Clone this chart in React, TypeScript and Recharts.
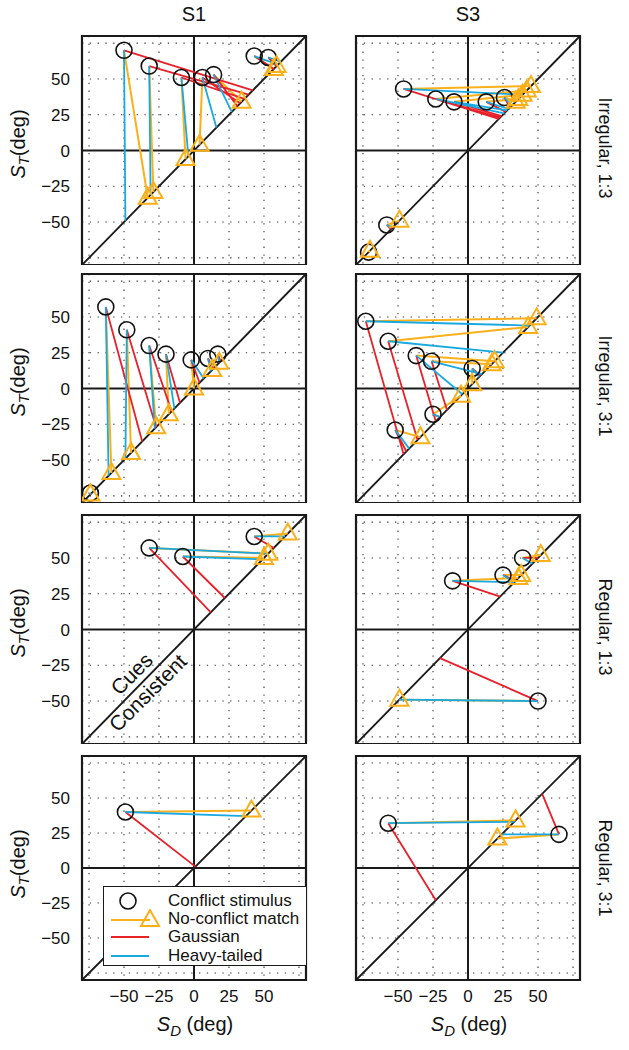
import React from 'react';
import {
  ComposedChart, Line, Scatter, XAxis, YAxis, CartesianGrid, ReferenceLine, ReferenceArea,
} from 'recharts';

// conflict stimuli [S_D, S_T] and the diagonal values each one is linked to
const s1Irr13Stim: [number, number][] = [[-50, 70], [-32, 59], [-9, 51], [6, 51], [14, 53], [43, 66], [53, 65]];
const s1Irr13Match = [-33, -29, -6, 4, 34, 57, 59];
const s1Irr13Gauss = [42, 39, 36, 33, 31, 57, 59];
const s1Irr13Heavy = [-49, -31, -4, 16, 27, 60, 62];

const s3Irr13Stim: [number, number][] = [[-46, 43], [-23, 36], [-10, 34], [13, 34], [26, 37], [-58, -52], [-71, -71]];
const s3Irr13Match = [45, 42, 39, 36, 34, -49, -70];
const s3Irr13Gauss = [22, 23, 24, 27, 30, -55, -71];
const s3Irr13Heavy = [39, 26, 28, 29, 31, -54, -71];

const s1Irr31Stim: [number, number][] = [[-63, 57], [-48, 41], [-32, 30], [-20, 24], [-2, 20], [10, 21], [17, 24], [-74, -73]];
const s1Irr31Match = [-59, -45, -27, -18, 0, 13, 18, -74];
const s1Irr31Gauss = [-37, -27, -16, -10, 4, 14, 19, -74];
const s1Irr31Heavy = [-61, -49, -28, -14, 7, 12, 18, -74];

const s3Irr31Stim: [number, number][] = [[-73, 47], [-57, 33], [-37, 23], [-26, 19], [3, 14], [-25, -18], [-52, -29]];
const s3Irr31Match = [49, 43, 19, 17, 3, -5, -34];
const s3Irr31Gauss = [-46, -36, -23, -15, 9, -20, -44];
const s3Irr31Heavy = [44, 25, -4, 10, 8, -20, -42];

const s1Reg13Stim: [number, number][] = [[-32, 57], [-8, 51], [43, 65]];
const s1Reg13Match = [53, 50, 67];
const s1Reg13Gauss = [12, 22, 57];
const s1Reg13Heavy = [53, 49, 65];

const s3Reg13Stim: [number, number][] = [[-11, 34], [25, 38], [39, 50], [50, -50]];
const s3Reg13Match = [36, 38, 52, -49];
const s3Reg13Gauss = [23, 34, 50, -20];
const s3Reg13Heavy = [33, 33, 46, -49];

const s1Reg31Stim: [number, number][] = [[-49, 40]];
const s1Reg31Match = [41];
const s1Reg31Gauss = [1];
const s1Reg31Heavy = [37];

const s3Reg31Stim: [number, number][] = [[-57, 32], [65, 24]];
const s3Reg31Match = [34, 21];
const s3Reg31Gauss = [-23, 53];
const s3Reg31Heavy = [33, 24];

const SUBJECTS = ['S1', 'S3'];
const CONDITIONS = ['Irregular, 1:3', 'Irregular, 3:1', 'Regular, 1:3', 'Regular, 3:1'];
const TICKS = [-75, -50, -25, 0, 25, 50, 75];
const DOMAIN: [number, number] = [-80, 80];

const ORANGE = '#FBB01A';
const RED = '#E8202A';
const BLUE = '#19A9E1';
const FONT = '"Liberation Sans", Arial, Helvetica, sans-serif';

const PLOT = 224;
const COL_X = [82, 356];
const ROW_Y = [36, 274, 515, 756];

type Pt = { x: number; y: number | null };

function segs(stim: [number, number][], targets: number[]): Pt[] {
  const out: Pt[] = [];
  stim.forEach(([sd, st], i) => {
    out.push({ x: sd, y: st }, { x: targets[i], y: targets[i] }, { x: targets[i], y: null });
  });
  return out;
}

const PANELS = [
  { row: 0, col: 0, stim: s1Irr13Stim, match: s1Irr13Match, gauss: s1Irr13Gauss, heavy: s1Irr13Heavy },
  { row: 0, col: 1, stim: s3Irr13Stim, match: s3Irr13Match, gauss: s3Irr13Gauss, heavy: s3Irr13Heavy },
  { row: 1, col: 0, stim: s1Irr31Stim, match: s1Irr31Match, gauss: s1Irr31Gauss, heavy: s1Irr31Heavy },
  { row: 1, col: 1, stim: s3Irr31Stim, match: s3Irr31Match, gauss: s3Irr31Gauss, heavy: s3Irr31Heavy },
  { row: 2, col: 0, stim: s1Reg13Stim, match: s1Reg13Match, gauss: s1Reg13Gauss, heavy: s1Reg13Heavy },
  { row: 2, col: 1, stim: s3Reg13Stim, match: s3Reg13Match, gauss: s3Reg13Gauss, heavy: s3Reg13Heavy },
  { row: 3, col: 0, stim: s1Reg31Stim, match: s1Reg31Match, gauss: s1Reg31Gauss, heavy: s1Reg31Heavy },
  { row: 3, col: 1, stim: s3Reg31Stim, match: s3Reg31Match, gauss: s3Reg31Gauss, heavy: s3Reg31Heavy },
];

const fmtTick = (v: number) => (Math.abs(v) === 75 ? '' : v < 0 ? `\u2212${-v}` : `${v}`);

const CircleMark = (props: any) => (
  <circle cx={props.cx} cy={props.cy} r={8} fill="none" stroke="#111" strokeWidth={1.6} />
);

const TriMark = (props: any) => {
  const { cx, cy } = props;
  return (
    <polygon
      points={`${cx},${cy - 10} ${cx - 9},${cy + 6} ${cx + 9},${cy + 6}`}
      fill="none" stroke={ORANGE} strokeWidth={2} strokeLinejoin="miter"
    />
  );
};

function Panel({ p }: { p: typeof PANELS[number] }) {
  const left = p.col === 0;
  const bottom = p.row === 3;
  const pad = 5;
  const yW = left ? 82 : 0;
  const width = (left ? 0 : pad) + yW + PLOT + pad;
  const height = pad + PLOT + (bottom ? 40 : pad);
  const stimPts = p.stim.map(([x, y]) => ({ x, y }));
  const matchPts = p.match.map((v) => ({ x: v, y: v }));
  return (
    <div style={{ position: 'absolute', left: left ? 0 : COL_X[1] - pad, top: ROW_Y[p.row] - pad }}>
      <ComposedChart
        width={width}
        height={height}
        margin={{ top: pad, right: pad, bottom: 0, left: left ? 0 : pad }}
      >
        <CartesianGrid stroke="#333" strokeDasharray="1.3 6.5" strokeWidth={1.1} />
        <XAxis
          dataKey="x" type="number" domain={DOMAIN} ticks={TICKS} allowDataOverflow
          hide={!bottom} height={40} tickSize={0} tickMargin={10} tickFormatter={fmtTick}
          axisLine={false} interval={0}
          tick={{ fill: '#111', fontSize: 17, fontFamily: FONT }}
        />
        <YAxis
          dataKey="y" type="number" domain={DOMAIN} ticks={TICKS} allowDataOverflow
          hide={!left} width={yW} tickSize={0} tickMargin={12} tickFormatter={fmtTick}
          axisLine={false} interval={0}
          tick={{ fill: '#111', fontSize: 17, fontFamily: FONT }}
        />
        <ReferenceLine x={0} stroke="#1a1a1a" strokeWidth={2} />
        <ReferenceLine y={0} stroke="#1a1a1a" strokeWidth={2} />
        <ReferenceLine
          segment={[{ x: -80, y: -80 }, { x: 80, y: 80 }]}
          stroke="#1a1a1a" strokeWidth={1.8}
        />
        <Line data={segs(p.stim, p.match)} dataKey="y" stroke={ORANGE} strokeWidth={2}
          dot={false} activeDot={false} connectNulls={false} type="linear" isAnimationActive={false} />
        <Line data={segs(p.stim, p.gauss)} dataKey="y" stroke={RED} strokeWidth={1.8}
          dot={false} activeDot={false} connectNulls={false} type="linear" isAnimationActive={false} />
        <Line data={segs(p.stim, p.heavy)} dataKey="y" stroke={BLUE} strokeWidth={1.8}
          dot={false} activeDot={false} connectNulls={false} type="linear" isAnimationActive={false} />
        <Scatter data={stimPts} dataKey="y" shape={CircleMark} isAnimationActive={false} />
        <Scatter data={matchPts} dataKey="y" shape={TriMark} isAnimationActive={false} />
        <ReferenceArea x1={-80} x2={80} y1={-80} y2={80} fill="none" fillOpacity={0}
          stroke="#1a1a1a" strokeWidth={2.2} ifOverflow="visible" />
      </ComposedChart>
    </div>
  );
}

const centered = (x: number, y: number, rot = 0): React.CSSProperties => ({
  position: 'absolute', left: x, top: y, whiteSpace: 'nowrap',
  transform: `translate(-50%, -50%) rotate(${rot}deg)`,
});

function LegendBox() {
  const rows = [
    { label: 'Conflict stimulus', kind: 'circle' },
    { label: 'No-conflict match', kind: 'tri' },
    { label: 'Gaussian', kind: RED },
    { label: 'Heavy-tailed', kind: BLUE },
  ];
  const ys = [14, 32, 50, 69];
  return (
    <div style={{
      position: 'absolute', left: 103, top: 886, width: 204, height: 80,
      border: '1.5px solid #1a1a1a', background: '#fff', boxSizing: 'border-box',
    }}>
      {rows.map((r, i) => (
        <div key={r.label} style={{ position: 'absolute', left: 0, top: ys[i] - 10, height: 20, width: 200 }}>
          <svg width={60} height={20} style={{ position: 'absolute', left: 0, top: 0 }}>
            {r.kind === 'circle' && <circle cx={24} cy={10} r={8} fill="none" stroke="#111" strokeWidth={1.6} />}
            {r.kind === 'tri' && (
              <>
                <line x1={7} y1={11} x2={46} y2={11} stroke={ORANGE} strokeWidth={2} />
                <polygon points="46,1 37,17 55,17" fill="none" stroke={ORANGE} strokeWidth={2} />
              </>
            )}
            {r.kind !== 'circle' && r.kind !== 'tri' && (
              <line x1={7} y1={10} x2={45} y2={10} stroke={r.kind} strokeWidth={2} />
            )}
          </svg>
          <div style={{ position: 'absolute', left: 64, top: 0, lineHeight: '20px', fontSize: 17, color: '#111' }}>
            {r.label}
          </div>
        </div>
      ))}
    </div>
  );
}

export default function App() {
  const labelFont: React.CSSProperties = { fontSize: 20, color: '#111' };
  return (
    <div style={{
      position: 'absolute', left: 0, top: 0, width: 629, height: 1050,
      background: '#fff', fontFamily: FONT, overflow: 'hidden',
    }}>
      {PANELS.map((p) => <Panel key={`${p.row}-${p.col}`} p={p} />)}

      {SUBJECTS.map((s, i) => (
        <div key={s} style={{ ...centered(COL_X[i] + PLOT / 2, 14), ...labelFont }}>{s}</div>
      ))}

      {CONDITIONS.map((c, i) => (
        <div key={c} style={{ ...centered(604, ROW_Y[i] + PLOT / 2, 90), fontSize: 18, color: '#111' }}>{c}</div>
      ))}

      {ROW_Y.map((y) => (
        <div key={y} style={{ ...centered(18, y + PLOT / 2 - 4, -90), ...labelFont }}>
          <i>S</i><i style={{ fontSize: 15, position: 'relative', top: 4 }}>T</i>(deg)
        </div>
      ))}

      {COL_X.map((x) => (
        <div key={x} style={{ ...centered(x + PLOT / 2 + 1, 1024), ...labelFont }}>
          <i>S</i><i style={{ fontSize: 15, position: 'relative', top: 5 }}>D</i> (deg)
        </div>
      ))}

      <div style={{ ...centered(132, 674, -45), fontSize: 21, color: '#111' }}>Cues</div>
      <div style={{ ...centered(148, 693, -45), fontSize: 21, color: '#111' }}>Consistent</div>

      <LegendBox />
    </div>
  );
}
